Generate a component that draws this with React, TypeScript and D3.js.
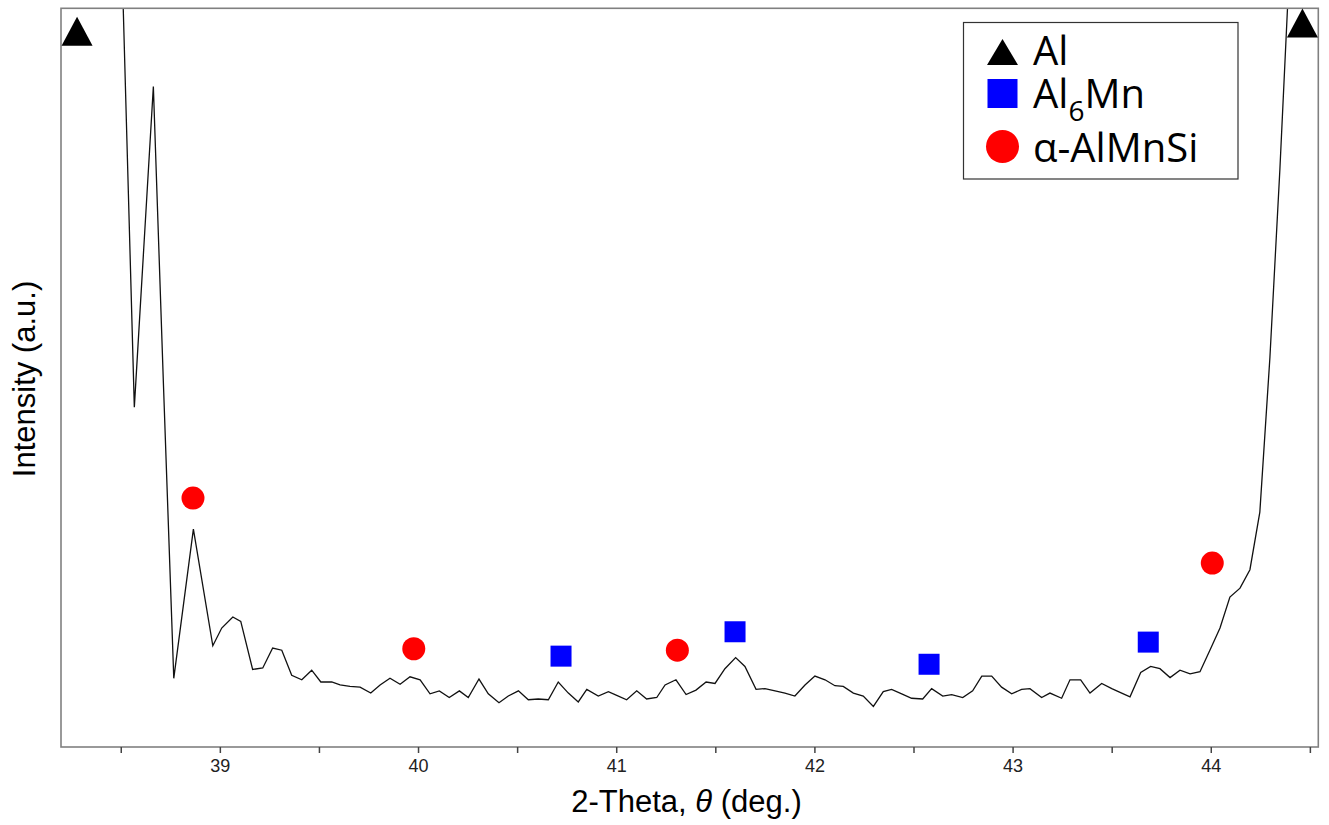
import React from 'react';
import * as d3 from 'd3';

// XRD scan: [2-theta (deg), intensity (a.u.)]
const scan: [number, number][] = [
  [38.40, 140], [38.45, 175], [38.50, 109.7], [38.566, 46.0], [38.662, 89.4],
  [38.713, 49.0], [38.765, 9.3], [38.864, 29.5], [38.962, 13.7], [39.007, 16.1],
  [39.063, 17.6], [39.103, 17.0], [39.163, 10.5], [39.214, 10.7], [39.264, 13.4],
  [39.310, 13.1], [39.360, 9.7], [39.411, 9.1], [39.461, 10.4], [39.507, 8.8],
  [39.562, 8.8], [39.604, 8.4], [39.654, 8.2], [39.705, 8.1], [39.759, 7.3],
  [39.806, 8.4], [39.856, 9.3], [39.907, 8.5], [39.957, 9.5], [40.008, 9.1],
  [40.058, 7.2], [40.105, 7.6], [40.155, 6.7], [40.206, 7.6], [40.251, 6.7],
  [40.305, 9.2], [40.352, 7.2], [40.406, 6.0], [40.453, 6.9], [40.504, 7.6],
  [40.554, 6.4], [40.604, 6.5], [40.655, 6.4], [40.705, 8.8], [40.756, 7.3],
  [40.806, 6.1], [40.849, 7.8], [40.907, 6.9], [40.958, 7.5], [41.000, 7.0],
  [41.050, 6.4], [41.101, 7.6], [41.151, 6.5], [41.202, 6.7], [41.244, 8.4],
  [41.299, 9.1], [41.350, 7.1], [41.400, 7.7], [41.451, 8.8], [41.496, 8.6],
  [41.546, 10.6], [41.600, 12.1], [41.647, 10.9], [41.703, 7.8], [41.748, 7.9],
  [41.799, 7.6], [41.849, 7.3], [41.899, 6.9], [41.950, 8.4], [42.000, 9.6],
  [42.051, 9.1], [42.101, 8.3], [42.143, 8.2], [42.194, 7.3], [42.244, 6.9],
  [42.295, 5.5], [42.345, 7.5], [42.387, 7.8], [42.438, 7.2], [42.488, 6.6],
  [42.544, 6.5], [42.589, 7.9], [42.645, 6.9], [42.690, 7.1], [42.746, 6.7],
  [42.796, 7.6], [42.842, 9.6], [42.892, 9.6], [42.942, 8.1], [42.993, 7.2],
  [43.043, 7.8], [43.085, 7.9], [43.144, 6.7], [43.186, 7.3], [43.245, 6.6],
  [43.287, 9.1], [43.341, 9.1], [43.388, 7.3], [43.447, 8.6], [43.498, 7.9],
  [43.548, 7.3], [43.590, 6.8], [43.644, 10.1], [43.694, 10.9], [43.741, 10.6],
  [43.792, 9.4], [43.842, 10.4], [43.893, 9.9], [43.943, 10.2], [43.993, 13.1],
  [44.044, 16.1], [44.094, 20.3], [44.145, 21.5], [44.195, 24.0], [44.245, 31.8],
  [44.296, 52.8], [44.346, 78.1], [44.396, 106.5], [44.45, 150], [44.50, 200],
];

// phase markers: [2-theta, intensity]
const alPeaks: [number, number][] = [[38.277, 96.9], [44.46, 98.0]];
const al6MnPeaks: [number, number][] = [[40.719, 12.3], [41.597, 15.6], [42.576, 11.2], [43.682, 14.2]];
const alphaPeaks: [number, number][] = [[38.862, 33.7], [39.976, 13.3], [41.306, 13.1], [44.005, 24.9]];

const xDomain: [number, number] = [38.196, 44.54];
const yDomain: [number, number] = [0, 100];
const majorTicks = [39, 40, 41, 42, 43, 44];
const minorTicks = [38.5, 39.5, 40.5, 41.5, 42.5, 43.5, 44.5];

const xTitle = '2-Theta, ';
const xTitleSym = 'θ';
const xTitleUnit = ' (deg.)';
const yTitle = 'Intensity (a.u.)';

const W = 1329;
const H = 825;
const L = 61, R = 1318.3, T = 8.3, B = 747;

function tri(cx: number, cy: number, w: number, h: number) {
  return `M${cx - w / 2},${cy + h / 2}L${cx},${cy - h / 2}L${cx + w / 2},${cy + h / 2}Z`;
}

export default function App() {
  const x = d3.scaleLinear().domain(xDomain).range([L, R]);
  const y = d3.scaleLinear().domain(yDomain).range([B, T]);
  const line = d3.line<[number, number]>().x(d => x(d[0])).y(d => y(d[1]));
  const axisFont = '"Liberation Sans", Arial, sans-serif';
  const legFont = '"Open Sans", sans-serif';
  const lx = 1002.5;
  const tx = 1033;

  return (
    <svg width={W} height={H} style={{ position: 'absolute', left: 0, top: 0, background: '#fff' }}>
      <defs>
        <clipPath id="plotclip">
          <rect x={L} y={T} width={R - L} height={B - T} />
        </clipPath>
      </defs>
      <rect x={0} y={0} width={W} height={H} fill="#fff" />

      {/* scan line */}
      <path d={line(scan) || ''} fill="none" stroke="#111" strokeWidth={1.3} clipPath="url(#plotclip)" strokeLinejoin="miter" />

      {/* frame */}
      <rect x={L} y={T} width={R - L} height={B - T} fill="none" stroke="#808080" strokeWidth={1.6} />

      {/* ticks */}
      {[...majorTicks, ...minorTicks].map(t => (
        <line key={'t' + t} x1={x(t)} x2={x(t)} y1={B} y2={B + 6} stroke="#444" strokeWidth={1.5} />
      ))}
      {majorTicks.map(t => (
        <text key={'l' + t} x={x(t)} y={771.5} textAnchor="middle" fontFamily={axisFont} fontSize={18} fill="#222">
          {t}
        </text>
      ))}

      {/* axis titles */}
      <text x={686.5} y={812} textAnchor="middle" fontFamily={axisFont} fontSize={31} fill="#000">
        {xTitle}
        <tspan fontStyle="italic">{xTitleSym}</tspan>
        {xTitleUnit}
      </text>
      <text transform={`translate(35,379) rotate(-90)`} textAnchor="middle" fontFamily={axisFont} fontSize={31} fill="#000">
        {yTitle}
      </text>

      {/* markers */}
      {alPeaks.map((p, i) => (
        <path key={'a' + i} d={tri(x(p[0]), y(p[1]), 31, 29)} fill="#000" />
      ))}
      {al6MnPeaks.map((p, i) => (
        <rect key={'m' + i} x={x(p[0]) - 10.5} y={y(p[1]) - 10.5} width={21} height={21} fill="#0000ff" />
      ))}
      {alphaPeaks.map((p, i) => (
        <circle key={'c' + i} cx={x(p[0])} cy={y(p[1])} r={11.5} fill="#ff0000" />
      ))}

      {/* legend */}
      <rect x={963.5} y={22.5} width={274.5} height={156.5} fill="#fff" stroke="#333" strokeWidth={1.2} />
      <path d={tri(lx, 52, 31, 26)} fill="#000" />
      <rect x={lx - 15} y={79} width={30} height={29} fill="#0000ff" />
      <circle cx={lx} cy={146.5} r={16.5} fill="#ff0000" />
      <text x={tx} y={65} fontFamily={legFont} fontSize={40} fill="#000">Al</text>
      <text x={tx} y={108} fontFamily={legFont} fontSize={40} fill="#000">
        Al<tspan fontSize={28} dy={13}>6</tspan><tspan dy={-13}>Mn</tspan>
      </text>
      <text x={tx} y={162} fontFamily={legFont} fontSize={40} fill="#000">α-AlMnSi</text>
    </svg>
  );
}
